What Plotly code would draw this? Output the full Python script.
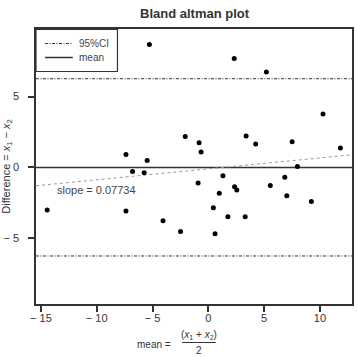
import plotly.graph_objects as go

# data (mean, difference)
mean_vals = [-5.28, 2.32, 5.2, -7.38, -6.79, -5.48, -5.75, -14.44, -7.38, -4.06,
             -2.07, -0.83, -0.65, 3.38, 4.24, 7.51, 10.27, 11.83, 7.98, 1.31,
             -0.92, 2.35, 2.55, 0.98, 5.55, 6.85, 7.03, 9.23, 0.45, 1.75,
             3.3, -2.49, 0.6]
diff_vals = [8.68, 7.69, 6.73, 0.92, -0.28, 0.49, -0.37, -3.01, -3.08, -3.76,
             2.19, 1.74, 1.09, 2.21, 1.65, 1.81, 3.77, 1.37, 0.07, -0.59,
             -1.1, -1.36, -1.6, -1.83, -1.27, -0.7, -2.0, -2.4, -2.84, -3.48,
             -3.48, -4.52, -4.68]
mean_diff = 0.0
ci_upper = 6.26
ci_lower = -6.25
slope = 0.07734
intercept = -0.1
x_range = [-15.44, 12.87]
y_range = [-9.64, 9.77]
x_ticks = [-15, -10, -5, 0, 5, 10]
x_ticktext = ["\u2212 15", "\u2212 10", "\u2212 5", "0", "5", "10"]
y_ticks = [-5, 0, 5]
y_ticktext = ["\u2212 5", "0", "5"]
legend_labels = ["95%CI", "mean"]

FONT = "Liberation Sans, Arial, sans-serif"
DASHDOT = "3px,1.5px,1px,1.5px"
W = H = 357
ML, MR, MT, MB = 36, 3, 29, 53
pw = W - ML - MR
ph = H - MT - MB


def px(xp):
    return (xp - ML) / pw


def py(yp):
    return (H - MB - yp) / ph


fig = go.Figure()

fig.add_trace(go.Scatter(x=x_range, y=[ci_upper, ci_upper], mode="lines",
                         line=dict(color="#333", width=1, dash=DASHDOT), showlegend=False))
fig.add_trace(go.Scatter(x=x_range, y=[ci_lower, ci_lower], mode="lines",
                         line=dict(color="#333", width=1, dash=DASHDOT), showlegend=False))
fig.add_trace(go.Scatter(x=x_range, y=[mean_diff, mean_diff], mode="lines",
                         line=dict(color="#333", width=1.5), showlegend=False))
fig.add_trace(go.Scatter(x=x_range, y=[intercept + slope * v for v in x_range], mode="lines",
                         line=dict(color="#999", width=1, dash="dot"), showlegend=False))
fig.add_trace(go.Scatter(x=mean_vals, y=diff_vals, mode="markers",
                         marker=dict(color="black", size=5), showlegend=False))

fig.update_layout(
    width=W, height=H,
    margin=dict(l=ML, r=MR, t=MT, b=MB),
    plot_bgcolor="white", paper_bgcolor="white",
    font=dict(family=FONT, size=11, color="#333"),
    title=dict(text="<b>Bland altman plot</b>", x=0.545, xanchor="center", y=0.975, yanchor="top",
               font=dict(size=13, color="#333")),
    showlegend=False,
)
fig.update_xaxes(range=x_range, tickvals=x_ticks, ticktext=x_ticktext, ticks="outside",
                 ticklen=6, tickwidth=1.5, tickcolor="#333", showline=True, linecolor="#333",
                 linewidth=1.5, mirror=True, showgrid=False, zeroline=False,
                 ticklabelstandoff=-3)
fig.update_yaxes(range=y_range, tickvals=y_ticks, ticktext=y_ticktext, ticks="outside",
                 ticklen=6, tickwidth=1.5, tickcolor="#333", showline=True, linecolor="#333",
                 linewidth=1.5, mirror=True, showgrid=False, zeroline=False,
                 ticklabelstandoff=7)

# manual legend box
fig.add_shape(type="rect", xref="paper", yref="paper", x0=px(36), x1=px(118),
              y0=py(71.5), y1=py(29.5), line=dict(color="#333", width=1.2),
              fillcolor="white", layer="above")
fig.add_shape(type="line", xref="paper", yref="paper", x0=px(45), x1=px(73),
              y0=py(43.5), y1=py(43.5), line=dict(color="#333", width=1, dash=DASHDOT))
fig.add_shape(type="line", xref="paper", yref="paper", x0=px(45), x1=px(73),
              y0=py(57.5), y1=py(57.5), line=dict(color="#333", width=1.5))
for lab, yy in zip(legend_labels, [43.5, 57.5]):
    fig.add_annotation(text=lab, x=px(77), y=py(yy), xref="paper", yref="paper",
                       xanchor="left", yanchor="middle", showarrow=False,
                       font=dict(size=10, color="#444"))

fig.add_annotation(text="slope = 0.07734", x=-10.0, y=-1.6, xref="x", yref="y",
                   showarrow=False, font=dict(size=11, color="#444"))
fig.add_annotation(text="Difference = <i>x</i><sub>1</sub> \u2212 <i>x</i><sub>2</sub>",
                   x=px(6), y=0.5, xref="paper", yref="paper", xanchor="center", yanchor="middle",
                   showarrow=False, textangle=-90, font=dict(size=11, color="#333"))
fig.add_annotation(text="mean =", x=px(155), y=py(344), xref="paper", yref="paper",
                   xanchor="center", yanchor="middle",
                   showarrow=False, font=dict(size=10, color="#333"))
fig.add_annotation(text="(<i>x</i><sub>1</sub> + <i>x</i><sub>2</sub>)", x=px(200), y=py(335),
                   xref="paper", yref="paper", xanchor="center", yanchor="middle",
                   showarrow=False, font=dict(size=10, color="#333"))
fig.add_annotation(text="2", x=px(200), y=py(350), xref="paper", yref="paper",
                   xanchor="center", yanchor="middle",
                   showarrow=False, font=dict(size=10, color="#333"))
fig.add_shape(type="line", xref="paper", yref="paper", x0=px(183), x1=px(217),
              y0=py(342.5), y1=py(342.5), line=dict(color="#333", width=1))

fig.write_html("out.html")
